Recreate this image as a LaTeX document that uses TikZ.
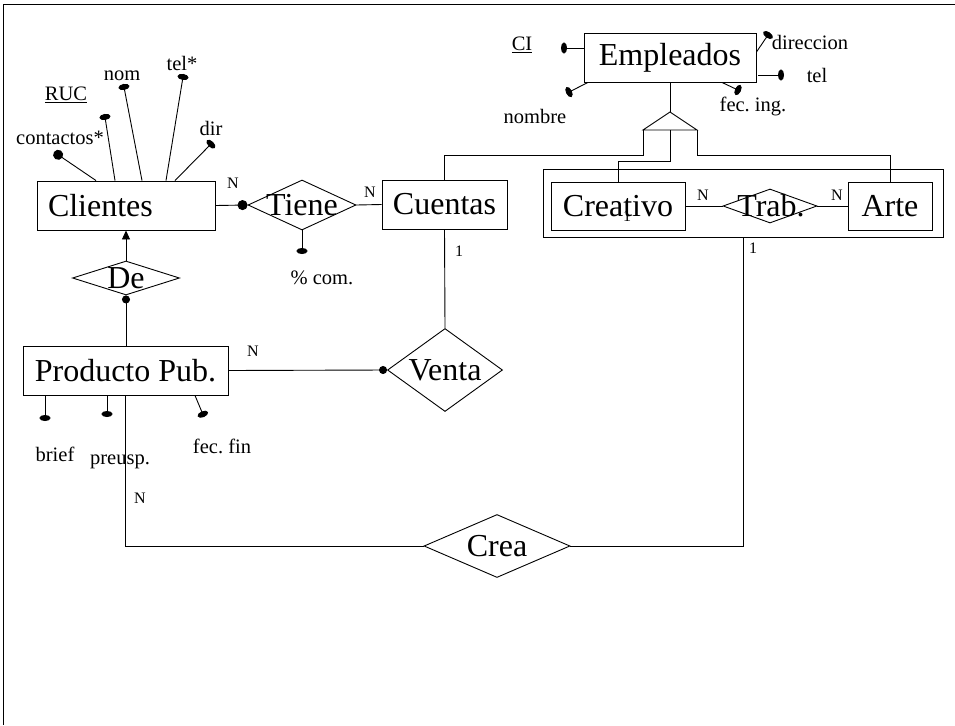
\documentclass[tikz,border=0pt]{standalone}
\usepackage{fontspec}
\setmainfont{Liberation Serif}
\usetikzlibrary{arrows.meta,shapes.geometric,calc}
\newcommand\erbig{\fontsize{32}{38}\selectfont}
\newcommand\ersmall{\fontsize{20.5}{24}\selectfont}
\newcommand\ertiny{\fontsize{16}{19}\selectfont}
\frenchspacing
\begin{document}
\begin{tikzpicture}[x=1pt,y=-1pt,line width=0.9pt,
  ent/.style={draw,rectangle,inner sep=0pt,font=\erbig},
  rel/.style={draw,diamond,inner sep=0pt},
  reltext/.style={font=\erbig,inner sep=0pt},
  attr/.style={font=\ersmall,inner sep=0pt},
  card/.style={font=\ertiny,inner sep=0pt},
  attrl/.style={-{Circle[length=6pt,width=11pt]}},
  dotl/.style={-{Circle[length=10pt,width=10pt]}},
  dots/.style={-{Circle[length=8pt,width=8pt]}}]
\useasboundingbox (0,0) rectangle (955,725);
% frame
\draw (955,4) -- (3,4) -- (3,725);
% entities
\node[ent,minimum width=178pt,minimum height=49pt,text width=156pt,align=left,inner xsep=11pt] (cli) at (126,205.5) {Clientes};
\node[ent,minimum width=125pt,minimum height=49pt] (cue) at (444.5,204.5) {Cuentas};
\node[ent,minimum width=172pt,minimum height=49pt] (emp) at (670,57.5) {Empleados};
\node[draw,rectangle,inner sep=0pt,minimum width=400pt,minimum height=68pt] (agg) at (743,203) {};
\node[ent,minimum width=134pt,minimum height=48pt] (cre) at (618,206) {Creativo};
\node[ent,minimum width=84pt,minimum height=48pt] (art) at (890,206) {Arte};
\node[ent,minimum width=205pt,minimum height=49pt] (pp) at (125.5,370.5) {Producto Pub.};
% relationships
\node[rel,minimum width=108pt,minimum height=50pt] (tie) at (302,205) {};
\node[reltext] (tiet) at (tie) {Tiene};
\node[rel,minimum width=107pt,minimum height=34pt] (de) at (126,278) {};
\node[reltext] (det) at (de) {De};
\node[rel,minimum width=115pt,minimum height=83pt] (ven) at (445,370) {};
\node[reltext] (vent) at (ven) {Venta};
\node[rel,minimum width=94pt,minimum height=34pt] (trab) at (770,206) {};
\node[reltext] (trabt) at (771,206) {Trab.};
\node[rel,minimum width=146pt,minimum height=63pt] (crea) at (497,546) {};
\node[reltext] (creat) at (crea) {Crea};
% ISA triangle
\coordinate (tapex) at (670,112);
\coordinate (tbl) at (643,130);
\coordinate (tbr) at (697,130);
\coordinate (tbm) at (670,130);
\coordinate (h155) at (0,155);
\coordinate (h161) at (0,161);
\draw (tapex) -- (tbl) -- (tbr) -- cycle;
\draw (emp.south) -- (tapex);
\draw (cue.north) -- (cue.north |- h155) -| (tbl);
\draw (tbm) -- (tbm |- h161) -| (cre.north);
\draw (tbr) -- (tbr |- h155) -| (art.north);
% relationship connectors
\draw[dotl] (cli.east) -- (tie.west);
\draw (tie.east) -- (cue.west);
\draw (cre.east) -- (trab.west);
\draw (trab.east) -- (art.west);
\draw (cue.south) -- (ven.north);
\draw[dots] (pp.east) -- (ven.west);
\draw[-{Triangle[length=9pt,width=8pt]}] (de.north) -- (de.north |- cli.south);
\draw[dots] (de.south |- pp.north) -- (de.south);
\draw (pp.south) |- (crea.west);
\draw (agg.south) |- (crea.east);
% attribute end points
\coordinate (dcon) at (54,152);
\coordinate (druc) at (104.5,114);
\coordinate (dnom) at (123.4,84);
\coordinate (dtel) at (183.5,74);
\coordinate (ddir) at (213,142);
\coordinate (dcom) at (302,254);
\coordinate (dci) at (561,48);
\coordinate (dnombre) at (566.3,93.4);
\coordinate (ddirec) at (769.7,32.5);
\coordinate (dtele) at (784,75);
\coordinate (dfing) at (740.7,91.3);
\coordinate (dbrief) at (45,421);
\coordinate (dpre) at (107,417);
\coordinate (dffin) at (204,417);
% attribute lines
\draw[dotl] (96,0 |- cli.north) -- (dcon);
\draw[attrl] (115,0 |- cli.north) -- (druc);
\draw[attrl] (142,0 |- cli.north) -- (dnom);
\draw[attrl] (166,0 |- cli.north) -- (dtel);
\draw[attrl] (175,0 |- cli.north) -- (ddir);
\draw[attrl] (tie.south) -- (dcom);
\draw[attrl] (emp.west |- 0,48) -- (dci);
\draw[attrl] (588,0 |- emp.south) -- (dnombre);
\draw[attrl] (emp.east |- 0,52) -- (ddirec);
\draw[attrl] (758,75) -- (dtele);
\draw[attrl] (722,0 |- emp.south) -- (dfing);
\draw[attrl] (45,0 |- pp.south) -- (dbrief);
\draw[attrl] (107,0 |- pp.south) -- (dpre);
\draw[attrl] (195,0 |- pp.south) -- (dffin);
% attribute labels
\node[attr] (lcon) at (60,138) {contactos*};
\node[attr] (lruc) at (66,95) {\underline{RUC}};
\node[attr] (lnom) at (122,76) {nom};
\node[attr] (ltel) at (182,63) {tel*};
\node[attr] (ldir) at (211,128) {dir};
\node[attr] (lcom) at (322,278) {\% com.};
\node[attr] (lci) at (522,45) {\underline{CI}};
\node[attr] (lnombre) at (535,116) {nombre};
\node[attr] (ldirec) at (810,42) {direccion};
\node[attr] (ltele) at (817,75) {tel};
\node[attr] (lfing) at (753,106) {fec. ing.};
\node[attr] (lbrief) at (55,454) {brief};
\node[attr] (lpre) at (120,462) {preusp.};
\node[attr] (lffin) at (222,446) {fec. fin};
% cardinalities
\node[card] (c1) at (233,183) {N};
\node[card] (c2) at (370,192) {N};
\node[card] (c3) at (703,195) {N};
\node[card] (c4) at (837,195) {N};
\node[card] (c5) at (253,351) {N};
\node[card] (c6) at (140,498) {N};
\node[card] (c7) at (459,251) {1};
\node[card] (c8) at (753,248) {1};
\node[card] (c9) at (627,216) {1};
\end{tikzpicture}
\end{document}
